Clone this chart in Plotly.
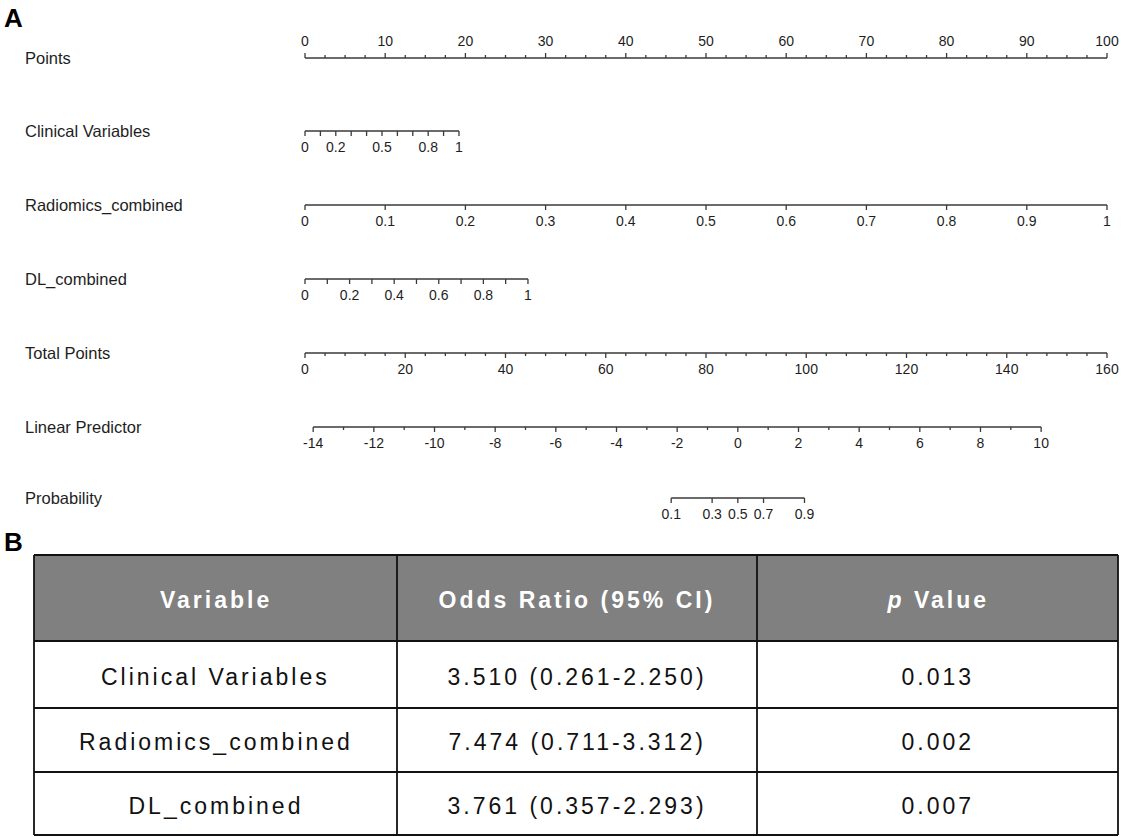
import numpy as np
import plotly.graph_objects as go

# ---------------- nomogram scales ----------------
points_major = [0, 10, 20, 30, 40, 50, 60, 70, 80, 90, 100]
points_minor_step = 2.5

clinical_ticks = [0, 0.1, 0.2, 0.3, 0.4, 0.5, 0.6, 0.7, 0.8, 0.9, 1]
clinical_labels = [0, 0.2, 0.5, 0.8, 1]
clinical_max_points = 19.2

radiomics_ticks = [0, 0.1, 0.2, 0.3, 0.4, 0.5, 0.6, 0.7, 0.8, 0.9, 1]
radiomics_labels = [0, 0.1, 0.2, 0.3, 0.4, 0.5, 0.6, 0.7, 0.8, 0.9, 1]
radiomics_max_points = 100.0

dl_ticks = [0, 0.1, 0.2, 0.3, 0.4, 0.5, 0.6, 0.7, 0.8, 0.9, 1]
dl_labels = [0, 0.2, 0.4, 0.6, 0.8, 1]
dl_max_points = 27.8

total_major = [0, 20, 40, 60, 80, 100, 120, 140, 160]
total_minor_step = 4
total_points_max = 160

lp_ticks = list(range(-14, 11))
lp_labels = [-14, -12, -10, -8, -6, -4, -2, 0, 2, 4, 6, 8, 10]
lp_at_zero_points = -14.27
points_per_lp = 3.782          # Points-scale units per unit of linear predictor

prob_labels = [0.1, 0.3, 0.5, 0.7, 0.9]

row_names = ["Points", "Clinical Variables", "Radiomics_combined", "DL_combined",
             "Total Points", "Linear Predictor", "Probability"]

# ---------------- regression table ----------------
table_headers = ["Variable", "Odds Ratio (95% CI)", "<i>p</i> Value"]
table_vars = ["Clinical Variables", "Radiomics_combined", "DL_combined"]
table_or = ["3.510 (0.261-2.250)", "7.474 (0.711-3.312)", "3.761 (0.357-2.293)"]
table_p = ["0.013", "0.002", "0.007"]

# ---------------- layout constants ----------------
W, H = 1122, 837
X0_PX, X100_PX = 305.0, 1107.0           # pixel span of the Points scale
PX_PER_PT = (X100_PX - X0_PX) / 100.0
ROW_Y = [58, 131, 205, 279, 353, 427, 498]
LABEL_X_PX = 23
LINE_COLOR = "#3a3a3a"
TEXT_COLOR = "#1e1e1e"
FONT = "Liberation Sans, Arial, sans-serif"
MAJOR_LEN, MINOR_LEN = 5, 3

# table geometry (pixels)
T_LEFT, T_RIGHT = 34, 1118
T_COLS = [34, 397, 757, 1118]
T_ROWS = [555, 641, 708, 772, 835]
HEADER_FILL = "#808080"
TEXT_DY = 2


def to_points_clin(v):
    return v * clinical_max_points


def to_points_rad(v):
    return v * radiomics_max_points


def to_points_dl(v):
    return v * dl_max_points


def to_points_total(t):
    return t * 100.0 / total_points_max


def to_points_lp(lp):
    return (lp - lp_at_zero_points) * points_per_lp


def to_points_prob(p):
    return to_points_lp(np.log(p / (1 - p)))


fig = go.Figure()


def fmt(v):
    return f"{v:g}"


def add_scale(y, major_pts, labels, minor_pts=(), up=False, label_off=17):
    all_pts = list(major_pts) + list(minor_pts)
    lo, hi = min(all_pts), max(all_pts)
    sgn = -1 if up else 1
    xs, ys = [lo, hi, None], [y, y, None]
    for p in major_pts:
        xs += [p, p, None]
        ys += [y, y + sgn * MAJOR_LEN, None]
    for p in minor_pts:
        xs += [p, p, None]
        ys += [y, y + sgn * MINOR_LEN, None]
    fig.add_trace(go.Scatter(x=xs, y=ys, mode="lines",
                             line=dict(color=LINE_COLOR, width=1.3),
                             hoverinfo="skip", showlegend=False))
    lab_x = [p for p, _ in labels]
    lab_t = [t for _, t in labels]
    fig.add_trace(go.Scatter(x=lab_x, y=[y - label_off if up else y + label_off] * len(lab_x),
                             mode="text", text=lab_t, textposition="middle center",
                             textfont=dict(family=FONT, size=14, color=TEXT_COLOR),
                             hoverinfo="skip", showlegend=False))


# Points
pts_minor = [v for v in np.arange(0, 100.001, points_minor_step) if v not in points_major]
add_scale(ROW_Y[0], points_major, [(v, fmt(v)) for v in points_major], pts_minor, up=True, label_off=16)

# Clinical Variables
add_scale(ROW_Y[1], [to_points_clin(v) for v in clinical_ticks],
          [(to_points_clin(v), fmt(v)) for v in clinical_labels])

# Radiomics_combined
add_scale(ROW_Y[2], [to_points_rad(v) for v in radiomics_ticks],
          [(to_points_rad(v), fmt(v)) for v in radiomics_labels])

# DL_combined
add_scale(ROW_Y[3], [to_points_dl(v) for v in dl_ticks],
          [(to_points_dl(v), fmt(v)) for v in dl_labels])

# Total Points
tot_minor = [v for v in np.arange(0, total_points_max + 0.001, total_minor_step) if v not in total_major]
add_scale(ROW_Y[4], [to_points_total(v) for v in total_major],
          [(to_points_total(v), fmt(v)) for v in total_major],
          [to_points_total(v) for v in tot_minor])

# Linear Predictor
lp_minor = [v for v in lp_ticks if v not in lp_labels]
add_scale(ROW_Y[5], [to_points_lp(v) for v in lp_labels],
          [(to_points_lp(v), fmt(v)) for v in lp_labels],
          [to_points_lp(v) for v in lp_minor])

# Probability
add_scale(ROW_Y[6], [to_points_prob(v) for v in prob_labels],
          [(to_points_prob(v), fmt(v)) for v in prob_labels])

annotations = []
annotations.append(dict(text="<b>A</b>", x=2 / W, xref="paper", y=18, yref="y",
                        xanchor="left", yanchor="middle", showarrow=False,
                        font=dict(family=FONT, size=26, color="#000")))
annotations.append(dict(text="<b>B</b>", x=2 / W, xref="paper", y=542, yref="y",
                        xanchor="left", yanchor="middle", showarrow=False,
                        font=dict(family=FONT, size=26, color="#000")))
for name, y in zip(row_names, ROW_Y):
    annotations.append(dict(text=name, x=LABEL_X_PX / W, xref="paper", y=y, yref="y",
                            xanchor="left", yanchor="middle", showarrow=False,
                            font=dict(family=FONT, size=16.5, color=TEXT_COLOR)))

# ---------------- table ----------------
shapes = []
shapes.append(dict(type="rect", xref="paper", yref="y",
                   x0=T_LEFT / W, x1=T_RIGHT / W, y0=T_ROWS[0], y1=T_ROWS[1],
                   fillcolor=HEADER_FILL, line=dict(width=0), layer="below"))
for yv in T_ROWS:
    shapes.append(dict(type="line", xref="paper", yref="y",
                       x0=T_LEFT / W, x1=T_RIGHT / W, y0=yv, y1=yv,
                       line=dict(color="#111", width=1.8)))
for xv in T_COLS:
    shapes.append(dict(type="line", xref="paper", yref="y",
                       x0=xv / W, x1=xv / W, y0=T_ROWS[0], y1=T_ROWS[-1],
                       line=dict(color="#111", width=1.8)))

table_start = len(annotations)
col_centers = [(T_COLS[i] + T_COLS[i + 1]) / 2 for i in range(3)]
for c, htxt in enumerate(table_headers):
    annotations.append(dict(text="<b>" + htxt + "</b>", x=col_centers[c] / W, xref="paper",
                            y=(T_ROWS[0] + T_ROWS[1]) / 2 + TEXT_DY, yref="y",
                            xanchor="center", yanchor="middle", showarrow=False,
                            font=dict(family=FONT, size=23, color="#ffffff")))
for r in range(len(table_vars)):
    yc = (T_ROWS[r + 1] + T_ROWS[r + 2]) / 2 + TEXT_DY
    for c, txt in enumerate([table_vars[r], table_or[r], table_p[r]]):
        annotations.append(dict(text=txt, x=col_centers[c] / W, xref="paper", y=yc, yref="y",
                                xanchor="center", yanchor="middle", showarrow=False,
                                font=dict(family=FONT, size=23, color="#111")))

fig.update_layout(
    width=W, height=H, margin=dict(l=0, r=0, t=0, b=0),
    paper_bgcolor="white", plot_bgcolor="white",
    xaxis=dict(range=[-X0_PX / PX_PER_PT, (W - X0_PX) / PX_PER_PT], visible=False, fixedrange=True),
    yaxis=dict(range=[H, 0], visible=False, fixedrange=True),
    annotations=annotations, shapes=shapes, showlegend=False,
)

# widen the tracking of the table text
post = ("var gd=document.getElementById('{plot_id}');"
        "gd.querySelectorAll('g.annotation').forEach(function(g){"
        "var i=+g.getAttribute('data-index'); if(i>=%d){"
        "g.querySelectorAll('text').forEach(function(t){t.style.letterSpacing='3px';});}});"
        % table_start)

fig.write_html("out.html", post_script=post, config={"staticPlot": True})
